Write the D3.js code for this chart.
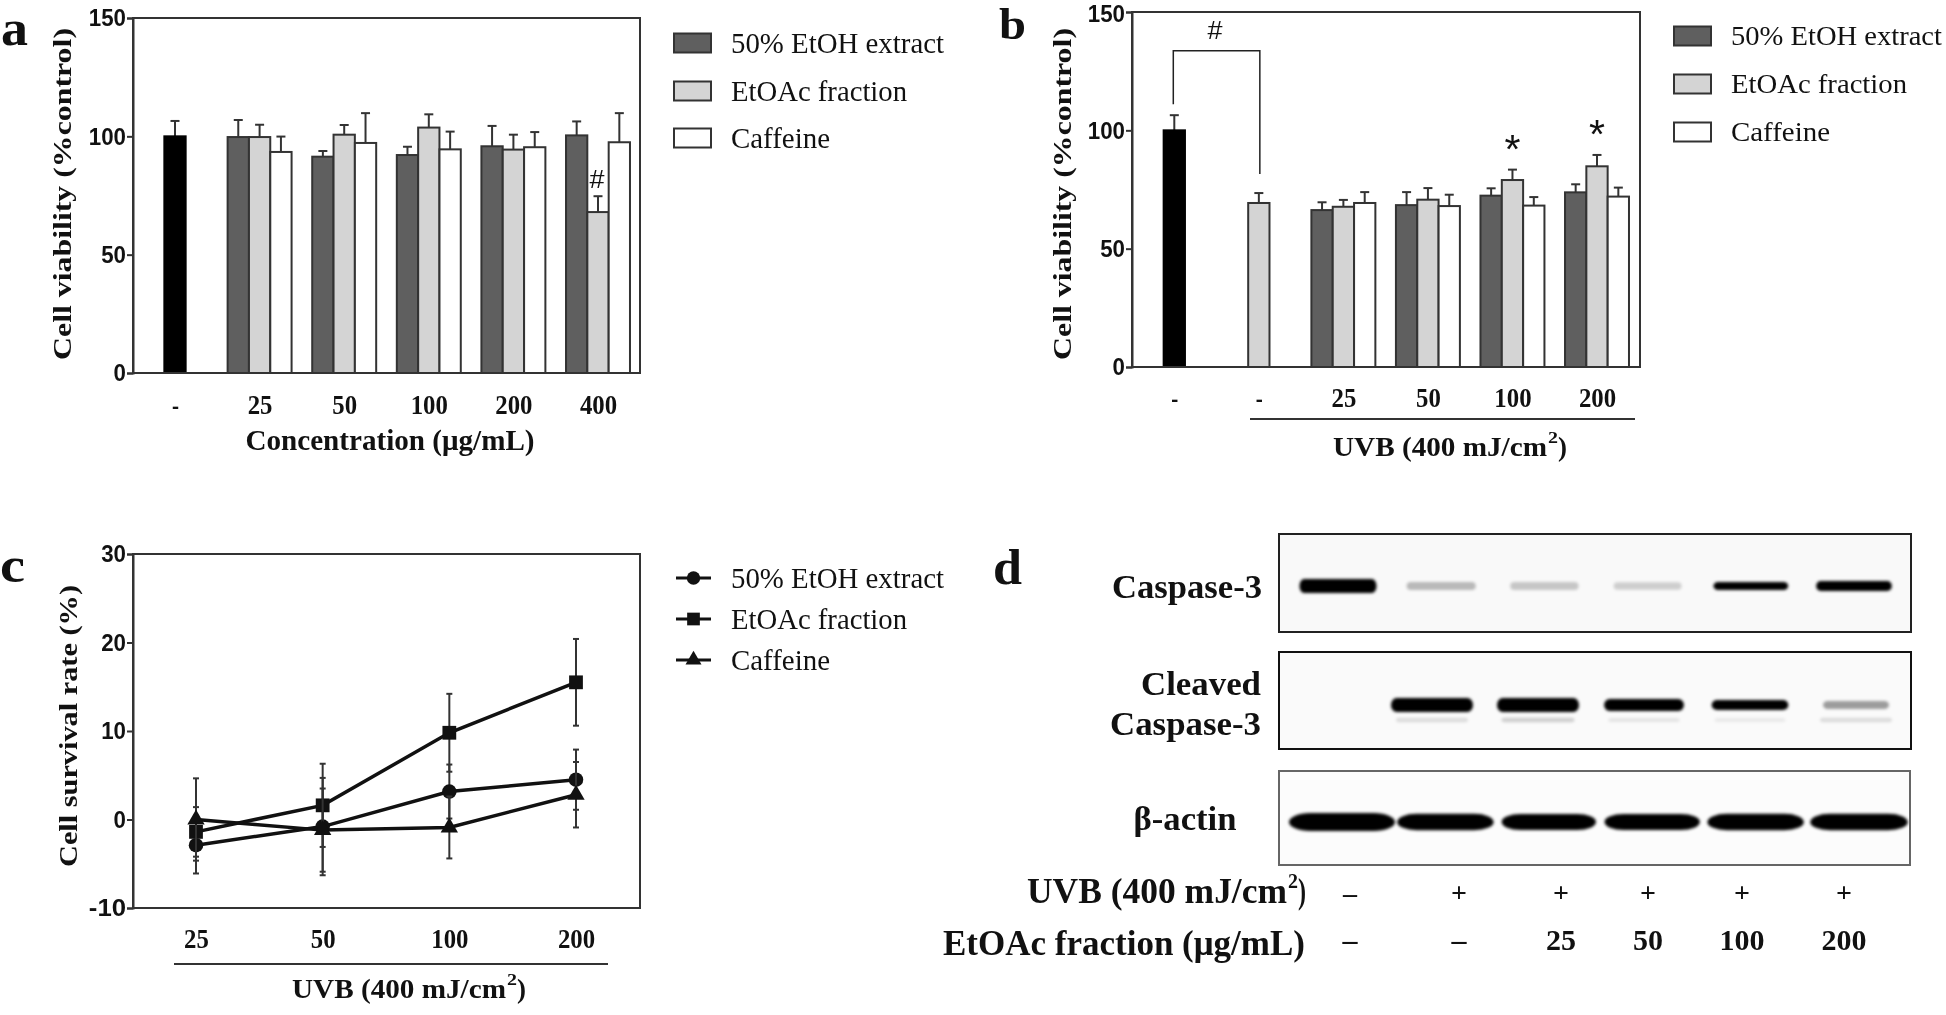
<!DOCTYPE html>
<html><head><meta charset="utf-8">
<script src="https://cdn.jsdelivr.net/npm/d3@7"></script>
<style>
html,body{margin:0;padding:0;background:#fff}
svg{display:block;font-family:"Liberation Serif",serif;filter:blur(0.35px)}
</style></head><body><svg id="c" width="1946" height="1015"></svg>
<script>
// ---------- data ----------
const seriesNames = ["50% EtOH extract","EtOAc fraction","Caffeine"];
const aCategories = ["-","25","50","100","200","400"];
const aControl = 100, aControlErr = 6.5;
const aEtoh  = [99.7,91.4,92.1,95.8,100.4];
const aEtoac = [99.7,100.7,103.7,94.4,68];
const aCaff  = [93.4,97.2,94.5,95.4,97.5];
const aEtohErr  = [7.2,2.4,3.5,8.6,5.9];
const aEtoacErr = [5.2,4.1,5.6,6.3,6.7];
const aCaffErr  = [6.5,12.6,7.5,6.4,12.3];

const bCategories = ["c0","c1","25","50","100","200"];
const bTickLabels = ["-","-","25","50","100","200"];
const bControl = 100, bControlErr = 6.4, bUvb = 69.3, bUvbErr = 4.2;
const bEtoh  = [66.3,68.4,72.4,73.8];
const bEtoac = [67.7,70.7,79,84.8];
const bCaff  = [69.3,68,68.2,72];
const bEtohErr  = [3.3,5.5,3.1,3.4];
const bEtoacErr = [2.9,4.9,4.4,4.8];
const bCaffErr  = [4.6,4.8,3.6,3.8];

const cCategories = ["25","50","100","200"];
const cEtoh  = [-2.9,-0.8,3.16,4.5];
const cEtoac = [-1.4,1.6,9.8,15.5];
const cCaff  = [0,-1.2,-0.9,2.8];
const cEtohErr  = [3.2,5.5,3.05,3.4];
const cEtoacErr = [2.8,4.7,4.4,4.9];
const cCaffErr  = [4.65,4.7,3.5,3.7];

const lanes = [1,2,3,4,5,6];
const caspaseDensity = [1,0.3,0.24,0.2,0.8,0.88];
const cleavedDensity = [0,1,1,0.92,0.8,0.4];
const cleavedLowerDensity = [0,0.14,0.2,0.1,0.08,0.14];
const actinDensity = [1,0.91,0.89,0.9,0.91,0.92];
const uvbSigns = ["–","+","+","+","+","+"];
const doseLabels = ["–","–","25","50","100","200"];

// ---------- helpers ----------
const svg = d3.select("#c");
const ink = "#333";
const fills = ["#5f5f5f","#d4d4d4","#ffffff"];
const SANS = "Liberation Sans";

function txt(x,y,s,o={}){
  const t = svg.append("text").attr("x",x).attr("y",y)
    .attr("dominant-baseline","central")
    .attr("text-anchor",o.anchor||"start")
    .attr("font-size",o.size||26)
    .attr("font-weight",o.weight||"normal")
    .attr("fill",o.fill||"#111");
  if(o.family) t.attr("font-family",o.family);
  t.text(s);
  if(o.len) t.attr("textLength",o.len).attr("lengthAdjust","spacingAndGlyphs");
  if(o.rotate) t.attr("transform",`rotate(${o.rotate} ${x} ${y})`);
  return t;
}
// "UVB (400 mJ/cm²)" in three pieces so the superscript sits clear of its neighbours
function uvbLabel(left,y,size,mainLen,supW,tailW){
  txt(left,y,"UVB (400 mJ/cm",{size,weight:"bold",len:mainLen});
  txt(left+mainLen+1,y-size*0.3,"2",{size:size*0.58,weight:"bold",len:supW});
  txt(left+mainLen+supW+1,y,")",{size,weight:"bold",len:tailW});
}
function frame(x0,x1,y0,y1,col){
  svg.append("rect").attr("x",x0).attr("y",y0).attr("width",x1-x0).attr("height",y1-y0)
    .attr("fill","none").attr("stroke",col||ink).attr("stroke-width",2);
}
function yAxis(scale,x0,vals,topNudge){
  const g = svg.append("g").attr("transform",`translate(${x0},0)`)
    .call(d3.axisLeft(scale).tickValues(vals).tickSize(6).tickPadding(1).tickFormat(d=>String(d)));
  g.selectAll("line").attr("stroke",ink).attr("stroke-width",2);
  g.select(".domain").attr("stroke",ink).attr("stroke-width",2);
  g.selectAll("text").attr("font-family",SANS).attr("font-weight","bold")
    .attr("font-size",24).attr("fill","#111")
    .attr("textLength",d=>String(d).length*12.4).attr("lengthAdjust","spacingAndGlyphs");
  if(topNudge) g.selectAll(".tick").filter(d=>d===vals[vals.length-1]).select("text").attr("dy",topNudge);
}
function xLabels(scale,y,labels){
  const g = svg.append("g").attr("transform",`translate(0,${y})`)
    .call(d3.axisBottom(scale).tickSize(0).tickPadding(0).tickFormat((d,i)=>labels[i]));
  g.select(".domain").remove();
  g.selectAll("text").attr("font-family","Liberation Serif").attr("font-weight","bold")
    .attr("font-size",28).attr("fill","#111").attr("dominant-baseline","central").attr("dy",0)
    .attr("textLength",(d,i)=>labels[i]==="-"?7:labels[i].length*12.4).attr("lengthAdjust","spacingAndGlyphs");
}
function bars(data,x,y){
  const base = y(0);
  const g = svg.append("g");
  g.selectAll("line.e").data(data).join("line").attr("class","e")
    .attr("x1",d=>x(d)).attr("x2",d=>x(d)).attr("y1",d=>y(d.v)).attr("y2",d=>y(d.v+d.e))
    .attr("stroke",ink).attr("stroke-width",2);
  g.selectAll("line.c").data(data).join("line").attr("class","c")
    .attr("x1",d=>x(d)-4.5).attr("x2",d=>x(d)+4.5).attr("y1",d=>y(d.v+d.e)).attr("y2",d=>y(d.v+d.e))
    .attr("stroke",ink).attr("stroke-width",2);
  g.selectAll("rect").data(data).join("rect")
    .attr("x",d=>x(d)-d.w/2).attr("width",d=>d.w)
    .attr("y",d=>y(d.v)).attr("height",d=>base-y(d.v))
    .attr("fill",d=>d.f).attr("stroke",d=>d.s||ink).attr("stroke-width",2);
}
function swatchLegend(x,tx,ys,lens,size){
  seriesNames.forEach((n,i)=>{
    svg.append("rect").attr("x",x).attr("y",ys[i]-9.5).attr("width",37).attr("height",19)
      .attr("fill",fills[i]).attr("stroke",ink).attr("stroke-width",2);
    txt(tx,ys[i]-1,n,{size,len:lens[i]});
  });
}
function groupedRows(cats,arrs){
  const out=[];
  cats.forEach((c,i)=>arrs.v.forEach((vals,k)=>out.push({cat:c,k,v:vals[i],e:arrs.e[k][i],f:fills[k],w:21.3})));
  return out;
}

// ---------- panel a ----------
{
  const L=133,R=640,T=18,B=373;
  const y=d3.scaleLinear().domain([0,150]).range([B,T]);
  const cat=d3.scalePoint().domain(aCategories).range([175,598]);
  const off=d3.scaleBand().domain([0,1,2]).range([-32,32]);
  const rows=groupedRows(aCategories.slice(1),{v:[aEtoh,aEtoac,aCaff],e:[aEtohErr,aEtoacErr,aCaffErr]});
  bars([{cat:"-",k:1,v:aControl,e:aControlErr,f:"#000",s:"#000",w:21.3},...rows],
       d=>cat(d.cat)+(d.cat==="-"?0:off(d.k)+off.bandwidth()/2),y);
  frame(L,R,T,B); yAxis(y,L,[0,50,100,150]);
  xLabels(cat,404,aCategories);
  txt(597,179,"#",{size:25,anchor:"middle",len:15,family:SANS});
  txt(390,439,"Concentration (μg/mL)",{size:30,weight:"bold",anchor:"middle",len:289});
  txt(62,194,"Cell viability (%control)",{size:26,weight:"bold",anchor:"middle",len:332,rotate:-90});
  swatchLegend(674,731,[43,91,138],[213,176,99],30);
  txt(1,28,"a",{size:50,weight:"bold",len:27});
}
// ---------- panel b ----------
{
  const L=1132,R=1640,T=12,B=367;
  const y=d3.scaleLinear().domain([0,150]).range([B,T]);
  const cat=d3.scalePoint().domain(bCategories).range([1174.3,1597]);
  const off=d3.scaleBand().domain([0,1,2]).range([-32,32]);
  const rows=groupedRows(bCategories.slice(2),{v:[bEtoh,bEtoac,bCaff],e:[bEtohErr,bEtoacErr,bCaffErr]});
  bars([{cat:"c0",k:1,v:bControl,e:bControlErr,f:"#000",s:"#000",w:21.3},
        {cat:"c1",k:1,v:bUvb,e:bUvbErr,f:fills[1],w:21.3},...rows],
       d=>cat(d.cat)+(d.cat[0]==="c"?0:off(d.k)+off.bandwidth()/2),y);
  frame(L,R,T,B); yAxis(y,L,[0,50,100,150],"0.4em");
  xLabels(cat,397,bTickLabels);
  // significance bracket
  svg.append("path").attr("fill","none").attr("stroke","#222").attr("stroke-width",1.5)
    .attr("d",d3.line()([[cat("c0")-1,y(111)],[cat("c0")-1,y(133.6)],[cat("c1")+1,y(133.6)],[cat("c1")+1,y(81.5)]]));
  txt(1215,30,"#",{size:25,anchor:"middle",len:15,family:SANS});
  txt(cat("100"),y(79)-31,"*",{size:40,anchor:"middle",len:16,family:SANS});
  txt(cat("200"),y(84.8)-32,"*",{size:40,anchor:"middle",len:16,family:SANS});
  svg.append("line").attr("x1",1250).attr("x2",1635).attr("y1",419).attr("y2",419).attr("stroke",ink).attr("stroke-width",2);
  uvbLabel(1333,446,27.5,214,10,9);
  txt(1062,194,"Cell viability (%control)",{size:26,weight:"bold",anchor:"middle",len:332,rotate:-90});
  swatchLegend(1674,1731,[36,84,132],[211,176,99],28);
  txt(999,24,"b",{size:44,weight:"bold",len:27});
}
// ---------- panel c ----------
{
  const L=133,R=640,T=554,B=908;
  const y=d3.scaleLinear().domain([-10,30]).range([B,T]);
  const x=d3.scalePoint().domain(cCategories).range([196,576]);
  const sets=[
    {v:cEtoh,e:cEtohErr,sym:d3.symbolCircle,size:165},
    {v:cEtoac,e:cEtoacErr,sym:d3.symbolSquare,size:190},
    {v:cCaff,e:cCaffErr,sym:d3.symbolTriangle,size:130}];
  sets.forEach(s=>{
    const g=svg.append("g");
    cCategories.forEach((c,i)=>{
      const hi=y(s.v[i]+s.e[i]),lo=y(s.v[i]-s.e[i]),X=x(c);
      g.append("line").attr("x1",X).attr("x2",X).attr("y1",hi).attr("y2",lo).attr("stroke","#333").attr("stroke-width",2);
      [hi,lo].forEach(p=>g.append("line").attr("x1",X-3).attr("x2",X+3).attr("y1",p).attr("y2",p).attr("stroke","#333").attr("stroke-width",2));
    });
    g.append("path").attr("fill","none").attr("stroke","#111").attr("stroke-width",3.5)
      .attr("d",d3.line().x((d,i)=>x(cCategories[i])).y(d=>y(d))(s.v));
    g.selectAll("path.m").data(s.v).join("path").attr("class","m")
      .attr("transform",(d,i)=>`translate(${x(cCategories[i])},${y(d)})`)
      .attr("d",d3.symbol(s.sym,s.size)).attr("fill","#111");
  });
  frame(L,R,T,B); yAxis(y,L,[-10,0,10,20,30]);
  xLabels(x,938,cCategories);
  svg.append("line").attr("x1",174).attr("x2",608).attr("y1",964).attr("y2",964).attr("stroke",ink).attr("stroke-width",2);
  uvbLabel(292,988,27.5,214,10,9);
  txt(68,726,"Cell survival rate (%)",{size:26,weight:"bold",anchor:"middle",len:282,rotate:-90});
  [578,619,660].forEach((ly,i)=>{
    svg.append("line").attr("x1",676).attr("x2",711).attr("y1",ly).attr("y2",ly).attr("stroke","#111").attr("stroke-width",3);
    svg.append("path").attr("transform",`translate(693.5,${ly})`).attr("d",d3.symbol(sets[i].sym,sets[i].size*0.85)).attr("fill","#111");
    txt(731,ly-1,seriesNames[i],{size:30,len:[213,176,99][i]});
  });
  txt(0,565,"c",{size:50,weight:"bold",len:25});
}
// ---------- panel d ----------
{
  const defs=svg.append("defs");
  defs.append("filter").attr("id","soft").attr("x","-20%").attr("y","-80%").attr("width","140%").attr("height","260%")
    .append("feGaussianBlur").attr("stdDeviation",1.5);
  const op=d3.scaleLinear().domain([0,0.35,0.8,1]).range([0,0.3,1,1]).clamp(true);
  function blot(y0,y1,x1,bg,yc,dens,laneRange,wDom,wRange,hDom,hRange,rxFactor){
    if(bg) svg.append("rect").attr("x",1279).attr("y",y0).attr("width",x1-1279).attr("height",y1-y0).attr("fill",bg);
    const lx=d3.scalePoint().domain(lanes).range(laneRange);
    const w=d3.scaleLinear().domain(wDom).range(wRange);
    const h=d3.scaleLinear().domain(hDom).range(hRange);
    svg.append("g").attr("filter","url(#soft)").selectAll("rect").data(dens).join("rect")
      .attr("x",(d,i)=>lx(lanes[i])-w(d)/2).attr("width",d=>w(d))
      .attr("y",d=>yc-h(d)/2).attr("height",d=>h(d))
      .attr("rx",d=>w(d)*rxFactor).attr("ry",d=>h(d)/2)
      .attr("fill","#000").attr("opacity",d=>d===0?0:op(d));
  }
  blot(534,632,1911,"#f9f9f9",586,caspaseDensity,[1338,1854],[0.2,1],[68,77],[0,0.3,0.8,0.88,1],[7,8,8,10,14],0.06);
  blot(652,749,1911,"#fafafa",705,cleavedDensity,[1326,1856],[0.4,1],[66,82],[0,0.4,0.8,0.92,1],[7,8,10,12,14],0.07);
  blot(652,749,1911,null,720,cleavedLowerDensity,[1326,1856],[0,1],[70,85],[0,1],[4,6],0.05);
  blot(771,865,1910,"#fcfcfc",822,actinDensity,[1342,1859],[0,1],[0,106],[0,1],[0,18],0.2);
  frame(1279,1911,534,632,"#222");
  frame(1279,1911,652,749,"#111");
  frame(1279,1910,771,865,"#666");
  const opts={size:34,weight:"bold",anchor:"end"};
  txt(1262,586,"Caspase-3",{...opts,len:150});
  txt(1261,683,"Cleaved",{...opts,len:120});
  txt(1261,723,"Caspase-3",{...opts,len:151});
  txt(1185,818,"β-actin",{size:34,weight:"bold",anchor:"middle",len:103});
  uvbLabel(1027,891,35,260,10,8);
  txt(1305,943,"EtOAc fraction (μg/mL)",{...opts,size:35,len:362});
  const rowX=d3.scaleOrdinal().domain(lanes).range([1350,1459,1561,1648,1742,1844]);
  const rowG=svg.append("g");
  rowG.selectAll("text.u").data(uvbSigns).join("text").attr("class","u")
    .attr("x",(d,i)=>rowX(lanes[i])).attr("y",892).attr("text-anchor","middle").attr("dominant-baseline","central")
    .attr("font-size",28).attr("font-weight","bold").attr("fill","#111").text(d=>d);
  rowG.selectAll("text.d").data(doseLabels).join("text").attr("class","d")
    .attr("x",(d,i)=>rowX(lanes[i])).attr("y",939).attr("text-anchor","middle").attr("dominant-baseline","central")
    .attr("font-size",30).attr("font-weight","bold").attr("fill","#111")
    .attr("textLength",d=>d.length*15).attr("lengthAdjust","spacingAndGlyphs").text(d=>d);
  txt(993,567,"d",{size:50,weight:"bold",len:29});
}
</script></body></html>
